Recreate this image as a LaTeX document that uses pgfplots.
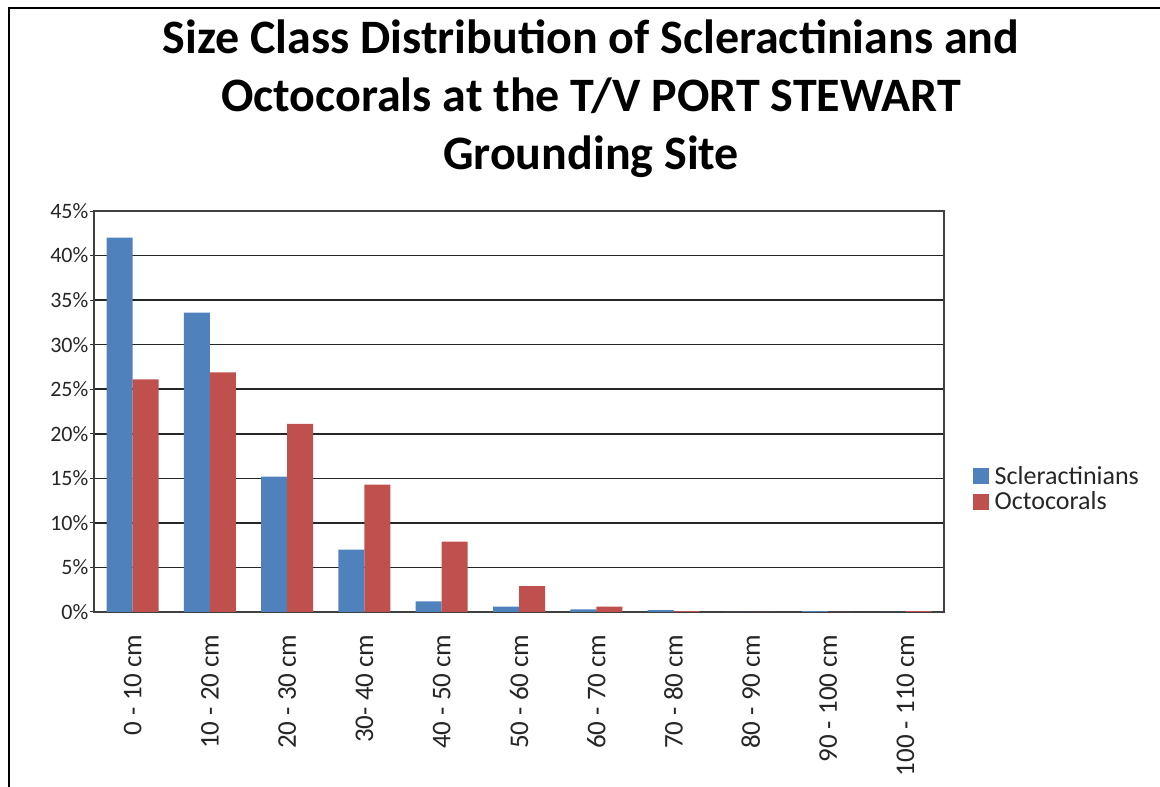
\documentclass[border=0pt]{standalone}
\usepackage{fontspec}
\setmainfont{Carlito}
\usepackage{pgfplots}
\pgfplotsset{compat=1.18}
\definecolor{sclblue}{HTML}{4F81BD}
\definecolor{octred}{HTML}{C0504D}
\begin{document}
\begin{tikzpicture}[x=1pt,y=1pt]
\useasboundingbox (0,0) rectangle (1160,787);
\draw[line width=2.5pt] (9,0) -- (9,779) -- (1160,779);
\node[font=\fontsize{48}{58}\selectfont\bfseries, align=center, anchor=center] at (591,688)
  {Size Class Distribution of Scleractinians and\\Octocorals at the T/V PORT STEWART\\Grounding Site};
\begin{axis}[
  at={(94pt,175pt)}, anchor=south west,
  scale only axis, width=850pt, height=401pt,
  ybar=0pt, bar width=26pt,
  xmin=-0.5, xmax=10.5, ymin=0, ymax=45,
  ytick={0,5,...,45},
  yticklabel={\pgfmathprintnumber{\tick}\%},
  /pgf/number format/assume math mode=true,
  xtick=data,
  xticklabels={0 - 10 cm,10 - 20 cm,20 - 30 cm,30- 40 cm,40 - 50 cm,50 - 60 cm,60 - 70 cm,70 - 80 cm,80 - 90 cm,90 - 100 cm,100 - 110 cm},
  xticklabel style={rotate=90, anchor=east, font=\fontsize{27}{30}\selectfont},
  yticklabel style={font=\fontsize{22}{26}\selectfont, inner xsep=1.5pt},
  xticklabel shift=15pt,
  x tick style={draw=none},
  y tick style={black!80, line width=1pt},
  ytick pos=left, tick align=outside, major tick length=4pt,
  every tick label/.append style={text=black!85},
  ymajorgrids, major grid style={black!85, line width=1.6pt},
  axis line style={black!75, line width=1.2pt},
  legend style={draw=none, fill=none, at={(1.03,0.307)}, anchor=west,
    font=\fontsize{26}{30}\selectfont, text=black!85, row sep=2pt},
  legend cell align=left,
  legend image code/.code={\fill[#1] (0pt,-8pt) rectangle (16pt,8pt); \path (20pt,0pt);},
]
\addplot[fill=sclblue, draw=none] coordinates {
(0,42.0) (1,33.6) (2,15.2) (3,7.0) (4,1.2) (5,0.6) (6,0.3) (7,0.2) (8,0) (9,0.1) (10,0)};
\addplot[fill=octred, draw=none] coordinates {
(0,26.1) (1,26.9) (2,21.1) (3,14.3) (4,7.9) (5,2.9) (6,0.6) (7,0.1) (8,0) (9,0) (10,0.1)};
\legend{Scleractinians,Octocorals}
\end{axis}
\end{tikzpicture}
\end{document}
